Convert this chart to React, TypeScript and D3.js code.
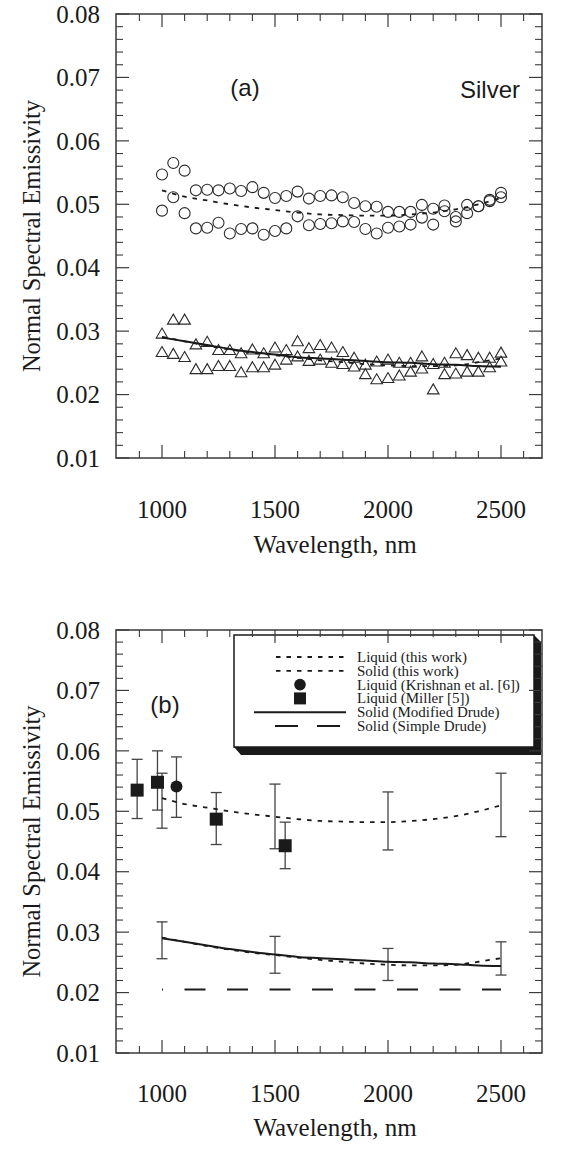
import React from "react";
import * as d3 from "d3";

// ---------- data ----------
const WAVELENGTHS = [1000, 1050, 1100, 1150, 1200, 1250, 1300, 1350, 1400, 1450, 1500, 1550, 1600, 1650, 1700, 1750, 1800, 1850, 1900, 1950, 2000, 2050, 2100, 2150, 2200, 2250, 2300, 2350, 2400, 2450, 2500];
const LIQUID_RUN1 = [0.0547, 0.0565, 0.0553, 0.0522, 0.0523, 0.0522, 0.0525, 0.0521, 0.0527, 0.0518, 0.0510, 0.0513, 0.0520, 0.0509, 0.0513, 0.0514, 0.0511, 0.0502, 0.0497, 0.0496, 0.0488, 0.0488, 0.0488, 0.0499, 0.0493, 0.0498, 0.0480, 0.0499, 0.0497, 0.0507, 0.0518];
const LIQUID_RUN2 = [0.0490, 0.0511, 0.0486, 0.0462, 0.0463, 0.0471, 0.0454, 0.0461, 0.0462, 0.0452, 0.0458, 0.0462, 0.0481, 0.0467, 0.0469, 0.0470, 0.0473, 0.0472, 0.0461, 0.0454, 0.0463, 0.0465, 0.0468, 0.0479, 0.0468, 0.0489, 0.0473, 0.0486, 0.0497, 0.0505, 0.0511];
const SOLID_RUN1 = [0.0296, 0.0318, 0.0318, 0.0279, 0.0283, 0.0270, 0.0270, 0.0265, 0.0271, 0.0265, 0.0274, 0.0270, 0.0284, 0.0273, 0.0278, 0.0274, 0.0267, 0.0258, 0.0247, 0.0252, 0.0255, 0.0250, 0.0250, 0.0260, 0.0248, 0.0250, 0.0265, 0.0262, 0.0258, 0.0258, 0.0266];
const SOLID_RUN2 = [0.0267, 0.0264, 0.0259, 0.0240, 0.0240, 0.0245, 0.0245, 0.0235, 0.0243, 0.0243, 0.0247, 0.0255, 0.0260, 0.0253, 0.0255, 0.0250, 0.0248, 0.0244, 0.0232, 0.0224, 0.0226, 0.0230, 0.0236, 0.0241, 0.0208, 0.0232, 0.0233, 0.0236, 0.0236, 0.0243, 0.0252];

const FIT_WL = [1000, 1100, 1200, 1300, 1400, 1500, 1600, 1700, 1800, 1900, 2000, 2100, 2200, 2300, 2400, 2500];
const LIQUID_FIT = [0.0522, 0.0512, 0.0506, 0.0500, 0.0495, 0.0491, 0.0487, 0.0484, 0.0483, 0.0482, 0.0482, 0.0484, 0.0487, 0.0492, 0.0500, 0.0510];
const SOLID_FIT = [0.0291, 0.0284, 0.0277, 0.0271, 0.0266, 0.0262, 0.0258, 0.0254, 0.0251, 0.0248, 0.0246, 0.0245, 0.0245, 0.0246, 0.0251, 0.0257];
const MODIFIED_DRUDE = [0.0290, 0.0284, 0.0278, 0.0272, 0.0267, 0.0263, 0.0259, 0.0257, 0.0255, 0.0253, 0.0251, 0.0250, 0.0248, 0.0247, 0.0245, 0.0244];
const SIMPLE_DRUDE_WL = [1000, 2500];
const SIMPLE_DRUDE = [0.0205, 0.0205];

const ERR_WL = [1000, 1500, 2000, 2500];
const LIQUID_ERR_HI = [0.0563, 0.0545, 0.0532, 0.0563];
const LIQUID_ERR_LO = [0.0472, 0.0438, 0.0436, 0.0458];
const SOLID_ERR_HI = [0.0317, 0.0293, 0.0273, 0.0284];
const SOLID_ERR_LO = [0.0256, 0.0232, 0.0220, 0.0229];

const MILLER_WL = [890, 980, 1240, 1545];
const MILLER = [0.0535, 0.0548, 0.0487, 0.0443];
const MILLER_HI = [0.0586, 0.0600, 0.0531, 0.0482];
const MILLER_LO = [0.0488, 0.0502, 0.0445, 0.0405];
const KRISHNAN_WL = [1064];
const KRISHNAN = [0.0541];
const KRISHNAN_HI = [0.0590];
const KRISHNAN_LO = [0.0490];

const Y_TICKS = [0.01, 0.02, 0.03, 0.04, 0.05, 0.06, 0.07, 0.08];
const Y_TICK_LABELS = ["0.01", "0.02", "0.03", "0.04", "0.05", "0.06", "0.07", "0.08"];
const Y_MINOR = [0.012, 0.014, 0.016, 0.018, 0.022, 0.024, 0.026, 0.028, 0.032, 0.034, 0.036, 0.038, 0.042, 0.044, 0.046, 0.048, 0.052, 0.054, 0.056, 0.058, 0.062, 0.064, 0.066, 0.068, 0.072, 0.074, 0.076, 0.078];
const X_TICKS = [1000, 1500, 2000, 2500];
const X_MINOR = [900, 1100, 1200, 1300, 1400, 1600, 1700, 1800, 1900, 2100, 2200, 2300, 2400, 2600];

const LEGEND_LABELS = [
  "Liquid (this work)",
  "Solid (this work)",
  "Liquid (Krishnan et al. [6])",
  "Liquid (Miller [5])",
  "Solid (Modified Drude)",
  "Solid (Simple Drude)",
];

// ---------- layout ----------
const W = 565;
const H = 1174;
const LEFT = 116;
const RIGHT = 542;
const SERIF = "'Liberation Serif', 'Times New Roman', serif";
const SANS = "'Liberation Sans', Arial, sans-serif";
const INK = "#1a1a1a";
const AXIS = "#3a3a3a";

const x = d3.scaleLinear().domain([1000, 2500]).range([162, 501]);

type PanelProps = {
  top: number;
  bottom: number;
  tickLabelY: number;
  titleY: number;
  children: (y: d3.ScaleLinear<number, number>) => React.ReactNode;
};

function Panel({ top, bottom, tickLabelY, titleY, children }: PanelProps) {
  const y = d3.scaleLinear().domain([0.01, 0.08]).range([bottom, top]);
  const MAJ = 13;
  const MIN = 7;
  return (
    <g>
      {children(y)}
      <rect x={LEFT} y={top} width={RIGHT - LEFT} height={bottom - top} fill="none" stroke={AXIS} strokeWidth={1.5} />
      {Y_TICKS.map((t) => (
        <g key={"ym" + t}>
          <line x1={LEFT} x2={LEFT + MAJ} y1={y(t)} y2={y(t)} stroke={AXIS} strokeWidth={1.2} />
          <line x1={RIGHT} x2={RIGHT - MAJ} y1={y(t)} y2={y(t)} stroke={AXIS} strokeWidth={1.2} />
        </g>
      ))}
      {Y_MINOR.map((t) => (
        <g key={"yn" + t}>
          <line x1={LEFT} x2={LEFT + MIN} y1={y(t)} y2={y(t)} stroke={AXIS} strokeWidth={1.1} />
          <line x1={RIGHT} x2={RIGHT - MIN} y1={y(t)} y2={y(t)} stroke={AXIS} strokeWidth={1.1} />
        </g>
      ))}
      {X_TICKS.map((t) => (
        <g key={"xm" + t}>
          <line x1={x(t)} x2={x(t)} y1={bottom} y2={bottom - MAJ} stroke={AXIS} strokeWidth={1.2} />
          <line x1={x(t)} x2={x(t)} y1={top} y2={top + MAJ} stroke={AXIS} strokeWidth={1.2} />
        </g>
      ))}
      {X_MINOR.map((t) => (
        <g key={"xn" + t}>
          <line x1={x(t)} x2={x(t)} y1={bottom} y2={bottom - MIN} stroke={AXIS} strokeWidth={1.1} />
          <line x1={x(t)} x2={x(t)} y1={top} y2={top + MIN} stroke={AXIS} strokeWidth={1.1} />
        </g>
      ))}
      {Y_TICKS.map((t, i) => (
        <text key={"yl" + t} x={100} y={y(t)} dy="0.35em" textAnchor="end" fontFamily={SERIF} fontSize={25} fill={INK}>
          {Y_TICK_LABELS[i]}
        </text>
      ))}
      {X_TICKS.map((t) => (
        <text key={"xl" + t} x={x(t)} y={tickLabelY} dy="0.35em" textAnchor="middle" fontFamily={SERIF} fontSize={25} fill={INK}>
          {t}
        </text>
      ))}
      <text x={(LEFT + RIGHT) / 2 + 6} y={titleY} textAnchor="middle" fontFamily={SERIF} fontSize={25} fill={INK}>
        Wavelength, nm
      </text>
      <text
        transform={`translate(${40},${(top + bottom) / 2}) rotate(-90)`}
        textAnchor="middle"
        fontFamily={SERIF}
        fontSize={24.5}
        fill={INK}
      >
        Normal Spectral Emissivity
      </text>
    </g>
  );
}

function triPath(cx: number, cy: number) {
  return `M${cx},${cy - 5.6}L${cx + 5.8},${cy + 4.4}L${cx - 5.8},${cy + 4.4}Z`;
}

function fitLine(y: d3.ScaleLinear<number, number>, xs: number[], vs: number[]) {
  const gen = d3
    .line<number>()
    .x((_, i) => x(xs[i]))
    .y((v) => y(v))
    .curve(d3.curveMonotoneX);
  return gen(vs) || "";
}

function ErrorBar({ xv, hi, lo, y, cap = 11 }: { xv: number; hi: number; lo: number; y: d3.ScaleLinear<number, number>; cap?: number }) {
  const px = x(xv);
  return (
    <g stroke="#444" strokeWidth={1.3}>
      <line x1={px} x2={px} y1={y(hi)} y2={y(lo)} />
      <line x1={px - cap / 2} x2={px + cap / 2} y1={y(hi)} y2={y(hi)} />
      <line x1={px - cap / 2} x2={px + cap / 2} y1={y(lo)} y2={y(lo)} />
    </g>
  );
}

const DASH_SHORT = "4.5 6";

export default function App() {
  const LX = 234;
  const LY = 635;
  const LW = 300;
  const LH = 112;
  const rowY = (i: number) => 657 + i * 13.8;

  return (
    <svg width={W} height={H} style={{ position: "absolute", left: 0, top: 0, background: "#fff" }}>
      <rect x={0} y={0} width={W} height={H} fill="#fff" />

      {/* Panel (a) */}
      <Panel top={14} bottom={458} tickLabelY={509} titleY={553}>
        {(y) => (
          <g>
            {WAVELENGTHS.map((w, i) => (
              <circle key={"l1" + w} cx={x(w)} cy={y(LIQUID_RUN1[i])} r={5.5} fill="none" stroke="#2a2a2a" strokeWidth={1.1} />
            ))}
            {WAVELENGTHS.map((w, i) => (
              <circle key={"l2" + w} cx={x(w)} cy={y(LIQUID_RUN2[i])} r={5.5} fill="none" stroke="#2a2a2a" strokeWidth={1.1} />
            ))}
            {WAVELENGTHS.map((w, i) => (
              <path key={"s1" + w} d={triPath(x(w), y(SOLID_RUN1[i]))} fill="none" stroke="#2a2a2a" strokeWidth={1.1} />
            ))}
            {WAVELENGTHS.map((w, i) => (
              <path key={"s2" + w} d={triPath(x(w), y(SOLID_RUN2[i]))} fill="none" stroke="#2a2a2a" strokeWidth={1.1} />
            ))}
            <path d={fitLine(y, FIT_WL, LIQUID_FIT)} fill="none" stroke={INK} strokeWidth={1.8} strokeDasharray={DASH_SHORT} />
            <path d={fitLine(y, FIT_WL, SOLID_FIT)} fill="none" stroke={INK} strokeWidth={1.8} strokeDasharray={DASH_SHORT} />
            <path d={fitLine(y, FIT_WL, MODIFIED_DRUDE)} fill="none" stroke={INK} strokeWidth={2} />
            <text x={245} y={88} dy="0.35em" textAnchor="middle" fontFamily={SANS} fontSize={24} fill={INK}>
              (a)
            </text>
            <text x={490} y={90} dy="0.35em" textAnchor="middle" fontFamily={SANS} fontSize={24} fill={INK}>
              Silver
            </text>
          </g>
        )}
      </Panel>

      {/* Panel (b) */}
      <Panel top={630} bottom={1053} tickLabelY={1093} titleY={1136}>
        {(y) => (
          <g>
            {ERR_WL.map((w, i) => (
              <ErrorBar key={"le" + w} xv={w} hi={LIQUID_ERR_HI[i]} lo={LIQUID_ERR_LO[i]} y={y} />
            ))}
            {ERR_WL.map((w, i) => (
              <ErrorBar key={"se" + w} xv={w} hi={SOLID_ERR_HI[i]} lo={SOLID_ERR_LO[i]} y={y} />
            ))}
            {MILLER_WL.map((w, i) => (
              <ErrorBar key={"me" + w} xv={w} hi={MILLER_HI[i]} lo={MILLER_LO[i]} y={y} />
            ))}
            {KRISHNAN_WL.map((w, i) => (
              <ErrorBar key={"ke" + w} xv={w} hi={KRISHNAN_HI[i]} lo={KRISHNAN_LO[i]} y={y} />
            ))}
            <path d={fitLine(y, FIT_WL, LIQUID_FIT)} fill="none" stroke={INK} strokeWidth={1.8} strokeDasharray={DASH_SHORT} />
            <path d={fitLine(y, FIT_WL, SOLID_FIT)} fill="none" stroke={INK} strokeWidth={1.8} strokeDasharray={DASH_SHORT} />
            <path d={fitLine(y, FIT_WL, MODIFIED_DRUDE)} fill="none" stroke={INK} strokeWidth={2} />
            <path
              d={fitLine(y, SIMPLE_DRUDE_WL, SIMPLE_DRUDE)}
              fill="none"
              stroke={INK}
              strokeWidth={2}
              strokeDasharray="21 21.5"
              strokeDashoffset={20}
            />
            {MILLER_WL.map((w, i) => (
              <rect key={"m" + w} x={x(w) - 6.5} y={y(MILLER[i]) - 6.5} width={13} height={13} fill={INK} />
            ))}
            {KRISHNAN_WL.map((w, i) => (
              <circle key={"k" + w} cx={x(w)} cy={y(KRISHNAN[i])} r={6} fill={INK} />
            ))}
            <text x={165} y={705} dy="0.35em" textAnchor="middle" fontFamily={SANS} fontSize={24} fill={INK}>
              (b)
            </text>

            {/* legend */}
            <polygon
              points={`${LX},${LY + LH} ${LX + 7},${LY + LH + 8} ${LX + LW + 7},${LY + LH + 8} ${LX + LW + 7},${LY + 7} ${LX + LW},${LY}`}
              fill={INK}
            />
            <rect x={LX} y={LY} width={LW} height={LH} fill="#fff" stroke={INK} strokeWidth={1.5} />
            <line x1={276} x2={345} y1={rowY(0)} y2={rowY(0)} stroke={INK} strokeWidth={1.8} strokeDasharray={DASH_SHORT} />
            <line x1={276} x2={345} y1={rowY(1)} y2={rowY(1)} stroke={INK} strokeWidth={1.8} strokeDasharray={DASH_SHORT} />
            <circle cx={300} cy={rowY(2)} r={5.8} fill={INK} />
            <rect x={294} y={rowY(3) - 6} width={12} height={12} fill={INK} />
            <line x1={254} x2={346} y1={rowY(4)} y2={rowY(4)} stroke={INK} strokeWidth={2} />
            <line x1={275} x2={340} y1={rowY(5)} y2={rowY(5)} stroke={INK} strokeWidth={2} strokeDasharray="23 19" />
            {LEGEND_LABELS.map((t, i) => (
              <text key={t} x={357} y={rowY(i)} dy="0.33em" fontFamily={SERIF} fontSize={15} fill={INK}>
                {t}
              </text>
            ))}
          </g>
        )}
      </Panel>
    </svg>
  );
}
